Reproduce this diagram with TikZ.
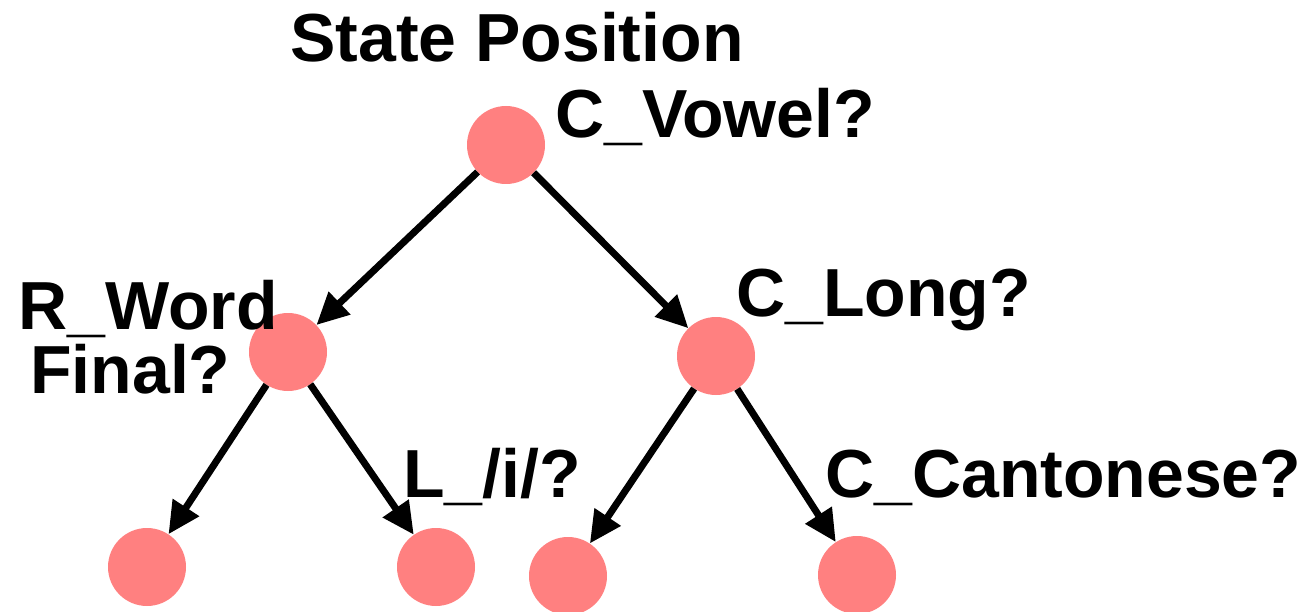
\documentclass[tikz,border=0pt]{standalone}
\usepackage{fontspec}
\setmainfont{Liberation Sans}
\usetikzlibrary{arrows.meta}
\definecolor{nodefill}{RGB}{255,128,128}
\begin{document}
\begin{tikzpicture}[x=1pt,y=-1pt,
  tnode/.style={circle,fill=nodefill,minimum size=78pt,inner sep=0pt},
  lbl/.style={anchor=base west,inner sep=0pt,font=\fontsize{68}{74}\selectfont\bfseries},
  edge/.style={line width=7pt,-{Triangle[length=32pt,width=30pt]}}]
\useasboundingbox (0,0) rectangle (1303,612);
\clip (0,0) rectangle (1303,612);
\node[tnode] (r)  at (506,145) {};
\node[tnode] (lm) at (288,352) {};
\node[tnode] (rm) at (716,356) {};
\node[tnode] (l1) at (147,567) {};
\node[tnode] (l2) at (436,567) {};
\node[tnode] (l3) at (568,576) {};
\node[tnode] (l4) at (857,575) {};
\draw[edge] (r) -- (lm);
\draw[edge] (r) -- (rm);
\draw[edge] (lm) -- (l1);
\draw[edge] (lm) -- (l2);
\draw[edge] (rm) -- (l3);
\draw[edge] (rm) -- (l4);
\node[lbl] (t0) at (290,62) {State Position};
\node[lbl] (t1) at (555,138) {C\_Vowel?};
\node[lbl] (t2) at (736,316) {C\_Long?};
\node[lbl] (t3) at (18,329) {R\_Word};
\node[lbl] (t4) at (30,393) {Final?};
\node[lbl] (t5) at (403,497) {L\_/i/?};
\node[lbl] (t6) at (825,497) {C\_Cantonese?};
\end{tikzpicture}
\end{document}
